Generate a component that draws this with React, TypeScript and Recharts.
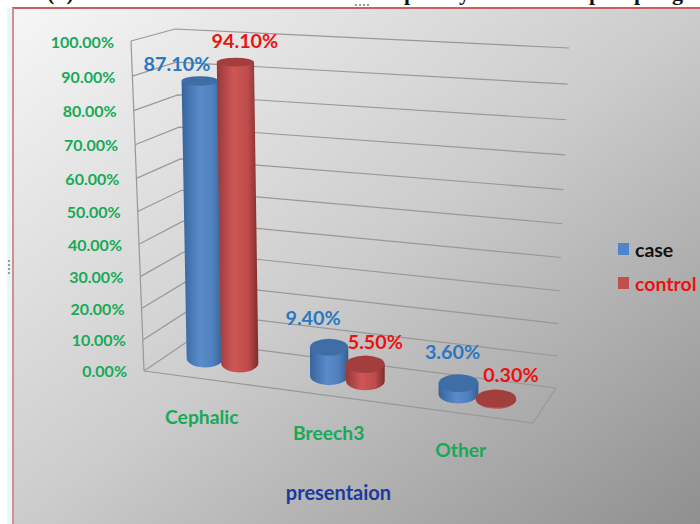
import React from "react";
import { Bar, BarChart, CartesianGrid, LabelList, Legend, XAxis, YAxis } from "recharts";

const categories = ["Cephalic", "Breech3", "Other"];
const caseValues = [87.1, 9.4, 3.6];
const controlValues = [94.1, 5.5, 0.3];
const yTicks = [0, 10, 20, 30, 40, 50, 60, 70, 80, 90, 100];

const data = categories.map((name, i) => ({
  name,
  case: caseValues[i],
  control: controlValues[i],
}));

const FONT = "Lato, 'Open Sans', sans-serif";
const GREEN = "#17a956";
const GRID = "#989898";

// flat plot area that recharts lays out, everything is then bent into the fake 3d box
const PLOT_TOP = 45;
const PLOT_BOTTOM = 372;
const PLOT_H = PLOT_BOTTOM - PLOT_TOP;
const CENTER_X = 347.5;
const BAND = 127;

// camera looks slightly down, so upper gridlines are spaced a bit wider
const bend = (v: number) => v / (1 + 0.07 * (1 - v));
const mix = (a: number, b: number, t: number) => a + (b - a) * t;
const levelOf = (y: number) => (PLOT_BOTTOM - y) / PLOT_H;

// box corners of the 3d frame
const frontLeft = (t: number) => [mix(144, 131, t), mix(371, 41, t)];
const backLeft = (t: number) => [mix(188, 175, t), mix(341, 29, t)];
const backRight = (t: number) => [mix(556, 569, t), mix(388, 48, t)];

const floorX = (fx: number) => {
  const t = (fx - CENTER_X) / BAND;
  return fx + 2.5 * t * t + 0.4 * t - 0.75;
};

function cylinder(fx: number, width: number, level: number) {
  const cx = floorX(fx);
  const baseY = 358 + 0.142 * (cx - 205);
  const t = bend(level);
  const rx = (width / 36) * (18.4 + (cx - 205) * 0.006);
  return {
    baseX: cx,
    baseY,
    topX: cx + (cx - 372) * 0.035 * t,
    topY: baseY - 321 * t,
    rx,
    baseRy: 9.5,
    topRy: 9 * (1 - 0.55 * t),
  };
}

function Cylinder(props: any) {
  const { x, y, width, height, grad, lid } = props;
  const c = cylinder(x + width / 2, width, height / PLOT_H);
  const body = [
    `M${c.topX - c.rx},${c.topY}`,
    `L${c.baseX - c.rx},${c.baseY}`,
    `A${c.rx},${c.baseRy} 0 0 0 ${c.baseX + c.rx},${c.baseY}`,
    `L${c.topX + c.rx},${c.topY}`,
    "Z",
  ].join(" ");
  return (
    <g>
      <path d={body} fill={`url(#${grad})`} />
      <ellipse cx={c.topX} cy={c.topY} rx={c.rx} ry={c.topRy} fill={lid} />
    </g>
  );
}

// nudges of the data labels from the lid of their cylinder, by category
const caseNudge = [[-23, -17.5], [-16, -30], [-6, -32]];
const controlNudge = [[9.5, -22], [10, -23], [15, -24.5]];

const barLabel = (nudge: number[][], color: string) => (props: any) => {
  const { x, y, width, height, value, index } = props;
  const c = cylinder(x + width / 2, width, height / PLOT_H);
  return (
    <text
      x={c.topX + nudge[index][0]}
      y={c.topY + nudge[index][1]}
      textAnchor="middle"
      dominantBaseline="central"
      fill={color}
      fontFamily={FONT}
      fontWeight={700}
      fontSize={19.8}
    >
      {Number(value).toFixed(2)}%
    </text>
  );
};

function WallLine(props: any) {
  const t = bend(levelOf(props.y1));
  const a = frontLeft(t);
  const b = backLeft(t);
  const c = backRight(t);
  const isFloor = levelOf(props.y1) < 0.001;
  return (
    <g fill="none" stroke={GRID} strokeWidth={1.2}>
      <polyline points={`${a} ${b} ${c}`} />
      {isFloor && (
        <>
          <polyline points={`${frontLeft(0)} 533,423 ${backRight(0)}`} />
          <line x1={frontLeft(0)[0]} y1={frontLeft(0)[1]} x2={frontLeft(1)[0]} y2={frontLeft(1)[1]} />
        </>
      )}
    </g>
  );
}

function YTick(props: any) {
  const { y, payload } = props;
  const t = bend(levelOf(y));
  return (
    <text
      x={mix(127, 114, t)}
      y={mix(370.5, 41.5, t)}
      textAnchor="end"
      dominantBaseline="central"
      fill={GREEN}
      fontFamily={FONT}
      fontWeight={700}
      fontSize={16}
    >
      {payload.value.toFixed(2)}%
    </text>
  );
}

function XTick(props: any) {
  const { x, payload } = props;
  const fx = floorX(x - 18);
  const px = fx + (fx - 330) * 0.022;
  return (
    <text
      x={px}
      y={417 + 0.124 * (px - 202)}
      textAnchor="middle"
      dominantBaseline="central"
      fill={GREEN}
      fontFamily={FONT}
      fontWeight={700}
      fontSize={19.3}
    >
      {payload.value}
    </text>
  );
}

function LegendBox(props: any) {
  return (
    <div style={{ fontFamily: FONT, fontWeight: 700, fontSize: 19.5 }}>
      {props.payload.map((item: any) => (
        <div key={item.value} style={{ display: "flex", alignItems: "center", height: 34 }}>
          <span style={{ width: 11, height: 12, marginRight: 6, background: item.color }} />
          <span style={{ color: item.value === "control" ? "#ee1111" : "#111" }}>{item.value}</span>
        </div>
      ))}
    </div>
  );
}

// what is left of the slide heading above the chart, only the descenders show
const headingBits = [
  ["(b)", 47],
  ["p", 404],
  ["y", 459],
  ["p", 589],
  ["p", 634],
  ["g", 672],
] as const;

const dots = (n: number, vertical: boolean) =>
  Array.from({ length: n }, (_, i) => (
    <span
      key={i}
      style={{
        position: "absolute",
        left: vertical ? 0 : i * 4,
        top: vertical ? i * 4 : 0,
        width: 2,
        height: 2,
        background: "#9a9a9a",
      }}
    />
  ));

export default function App() {
  return (
    <div style={{ position: "absolute", left: 0, top: 0, width: 700, height: 524, overflow: "hidden", background: "#fff" }}>
      {/* bits of the slide behind the chart */}
      <div style={{ position: "absolute", left: 0, top: 0, width: 700, height: 6, overflow: "hidden" }}>
        {headingBits.map(([text, left], i) => (
          <span
            key={i}
            style={{
              position: "absolute",
              left,
              top: -20,
              fontFamily: "'Liberation Serif', serif",
              fontWeight: 700,
              fontSize: 22,
              color: "#111",
            }}
          >
            {text}
          </span>
        ))}
      </div>
      <div style={{ position: "absolute", left: 7, top: 8, width: 5, height: 516, background: "#e2f9f9" }} />
      <div
        style={{
          position: "absolute",
          left: 12,
          top: 7,
          width: 688,
          height: 517,
          boxSizing: "border-box",
          borderTop: "2px solid #c9605e",
          borderLeft: "2px solid #d98c8c",
          background: "linear-gradient(to bottom right, #f6f6f6 0%, #cccccc 50%, #8f8f8f 100%)",
        }}
      />
      <div style={{ position: "absolute", left: 8, top: 260 }}>{dots(4, true)}</div>
      <div style={{ position: "absolute", left: 355, top: 4 }}>{dots(4, false)}</div>
      <BarChart
        width={700}
        height={524}
        data={data}
        margin={{ top: PLOT_TOP, right: 162, bottom: 524 - PLOT_BOTTOM - 30, left: 97 }}
        barSize={36}
        barGap={0}
        style={{ position: "absolute", left: 0, top: 0 }}
      >
        <defs>
          <linearGradient id="caseBody" x1="0" y1="0" x2="1" y2="0">
            <stop offset="0" stopColor="#36659c" />
            <stop offset="0.45" stopColor="#5a8ccb" />
            <stop offset="0.75" stopColor="#4f80bd" />
            <stop offset="1" stopColor="#34608f" />
          </linearGradient>
          <linearGradient id="controlBody" x1="0" y1="0" x2="1" y2="0">
            <stop offset="0" stopColor="#96393a" />
            <stop offset="0.4" stopColor="#cf5656" />
            <stop offset="0.75" stopColor="#bd4c4b" />
            <stop offset="1" stopColor="#7f2c2b" />
          </linearGradient>
        </defs>
        <CartesianGrid vertical={false} horizontal={(p: any) => <WallLine key={p.y1} {...p} />} />
        <XAxis
          dataKey="name"
          height={30}
          axisLine={false}
          tickLine={false}
          interval={0}
          tick={<XTick />}
          label={{
            value: "presentaion",
            position: "bottom",
            offset: 84,
            dx: -9,
            fill: "#1c3a9e",
            fontFamily: FONT,
            fontWeight: 700,
            fontSize: 20,
          }}
        />
        <YAxis width={60} domain={[0, 100]} ticks={yTicks} axisLine={false} tickLine={false} interval={0} tick={<YTick />} />
        <Legend
          layout="horizontal"
          verticalAlign="middle"
          align="center"
          content={<LegendBox />}
          wrapperStyle={{ left: 618, top: 232, width: 82 }}
        />
        <Bar
          dataKey="case"
          fill="#4f86cb"
          isAnimationActive={false}
          shape={<Cylinder grad="caseBody" lid="#3f6ea6" />}
        >
          <LabelList dataKey="case" content={barLabel(caseNudge, "#2b78c2")} />
        </Bar>
        <Bar
          dataKey="control"
          fill="#c0504d"
          isAnimationActive={false}
          shape={<Cylinder grad="controlBody" lid="#a23f3e" />}
        >
          <LabelList dataKey="control" content={barLabel(controlNudge, "#ee1111")} />
        </Bar>
      </BarChart>
    </div>
  );
}
